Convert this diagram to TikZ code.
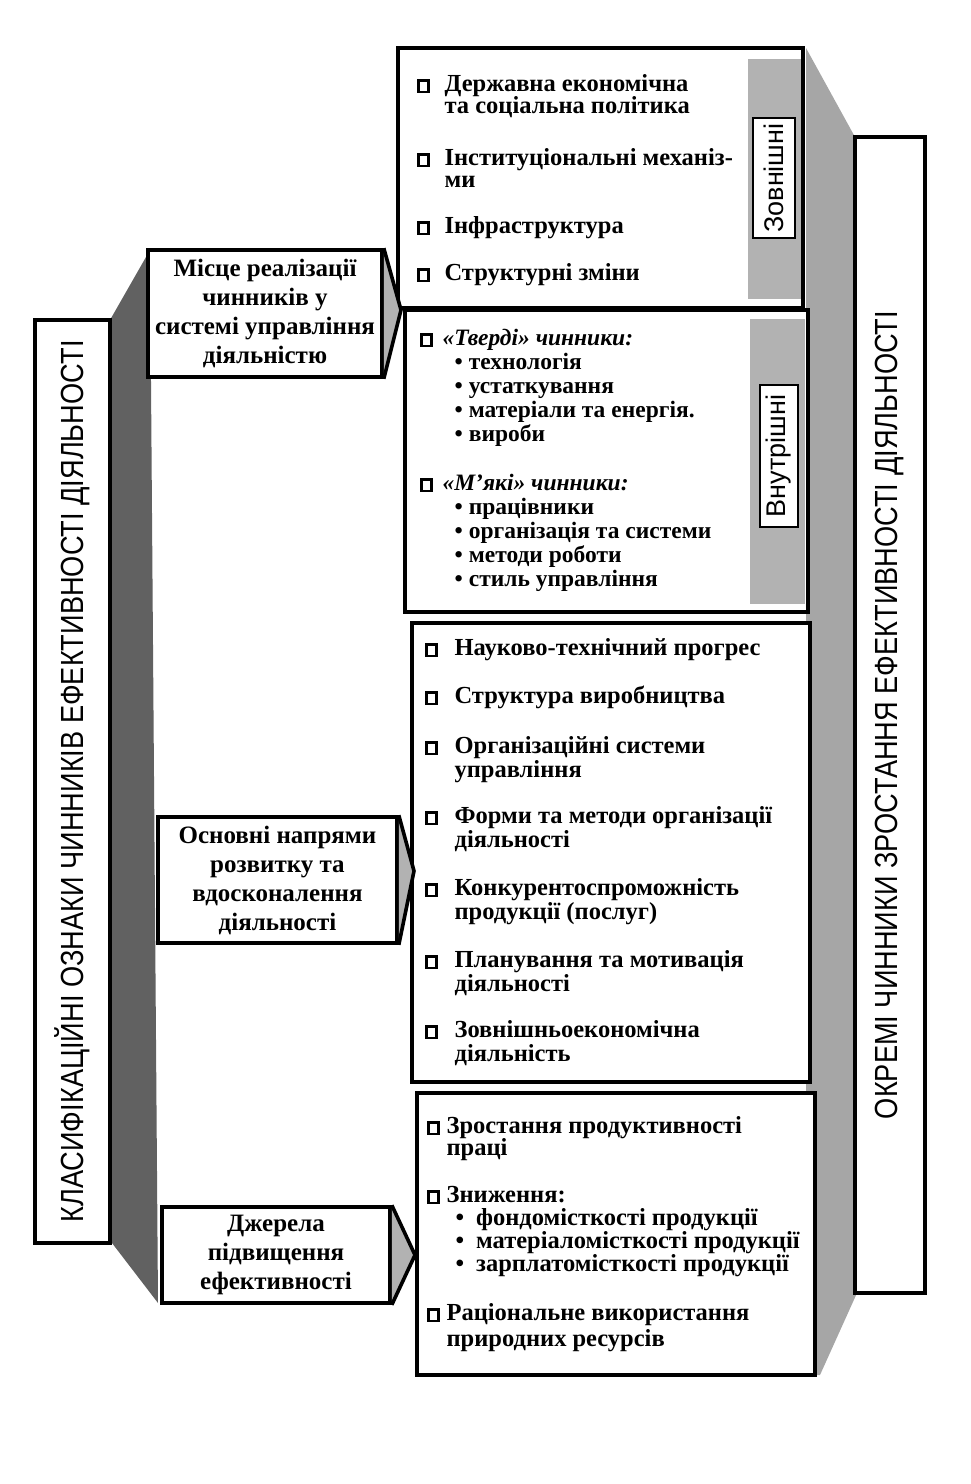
\documentclass[tikz,border=0pt]{standalone}
\usepackage{fontspec}
\setmainfont{Liberation Serif}
\setsansfont{Liberation Sans}
\newfontfamily\titlef[FakeStretch=0.85]{Liberation Sans}
\newcommand\sq{\raisebox{0.5pt}{\setlength\fboxrule{2.7pt}\setlength\fboxsep{0pt}\fbox{\rule{0pt}{8.5pt}\rule{7pt}{0pt}}}}
\newcommand\ml[2][21pt]{\vtop{\hsize=420pt\baselineskip=#1\relax\lineskiplimit=-50pt\lineskip=0pt\raggedright\noindent #2\par}}
\begin{document}
\begin{tikzpicture}[x=1pt,y=-1pt,line join=miter]
\tikzset{
 frame/.style={draw,line width=3.6pt,fill=white},
 lbox/.style={frame,align=center,font=\fontsize{25}{29}\selectfont\bfseries,inner sep=0pt},
 tip/.style={draw,line width=3.6pt,fill=black!30},
 lband/.style={fill=black!62},
 rband/.style={fill=black!35},
 strip/.style={fill=black!30},
 item/.style={anchor=base west,inner sep=0pt,font=\fontsize{24.5}{21}\selectfont\bfseries},
 itemb/.style={item,font=\fontsize{23.5}{24}\selectfont\bfseries},
 tag/.style={draw,line width=1.8pt,fill=white,rotate=90,font=\sffamily\fontsize{27}{27}\selectfont,inner sep=0pt},
 title/.style={frame,rotate=90,font=\titlef\fontsize{32}{32}\selectfont,inner sep=0pt}
}
\useasboundingbox (0,0) rectangle (970,1484);
% shaded bands
\fill[lband] (110,320) -- (150,250) -- (158,1303) -- (112,1243) -- cycle;
\fill[rband] (806,48) -- (855,137) -- (857,1293) -- (820,1375) -- (806,1375) -- cycle;
% title boxes
\node[title,minimum width=923pt,minimum height=75pt] (lt) at (72.5,781.5) {КЛАСИФІКАЦІЙНІ ОЗНАКИ ЧИННИКІВ ЕФЕКТИВНОСТІ ДІЯЛЬНОСТІ};
\node[title,minimum width=1156pt,minimum height=70pt] (rt) at (890,715) {ОКРЕМІ ЧИННИКИ ЗРОСТАННЯ ЕФЕКТИВНОСТІ ДІЯЛЬНОСТІ};
% right boxes
\node[frame,minimum width=405pt,minimum height=260pt] (A) at (600.5,178) {};
\node[frame,minimum width=403pt,minimum height=302pt] (B) at (606.5,461) {};
\node[frame,minimum width=398pt,minimum height=459pt] (C) at (611,852.5) {};
\node[frame,minimum width=398pt,minimum height=282pt] (D) at (616,1234) {};
\fill[strip] (748,59) rectangle (801,299);
\fill[strip] (750,319) rectangle (805,604);
\node[tag,minimum width=120pt,minimum height=42pt] (zt) at (774,178) {Зовнішні};
\node[tag,minimum width=142pt,minimum height=38pt] (vt) at (779,456) {Внутрішні};
% left boxes with arrow tips
\node[lbox,minimum width=234pt,minimum height=127pt] (m1) at (265,313.5) {Місце реалізації\\чинників у\\системі управління\\діяльністю};
\coordinate (t1) at (401,310);
\draw[tip] (m1.north east) -- (t1) -- (m1.south east);
\node[lbox,minimum width=239pt,minimum height=126pt] (m2) at (277.5,880) {Основні напрями\\розвитку та\\вдосконалення\\діяльності};
\coordinate (t2) at (414,871);
\draw[tip] (m2.north east) -- (t2) -- (m2.south east);
\node[lbox,minimum width=228pt,minimum height=96pt] (m3) at (276,1255) {Джерела\\підвищення\\ефективності};
\coordinate (t3) at (415,1255);
\draw[tip] (m3.north east) -- (t3) -- (m3.south east);
% box A items
\node[item] (a1) at (417,91) {\sq\hspace{15pt}\ml[22.5pt]{Державна економічна\\та соціальна політика}};
\node[item] (a2) at (417,165) {\sq\hspace{15pt}\ml[22.5pt]{Інституціональні механіз-\\ми}};
\node[item] (a3) at (417,233) {\sq\hspace{15pt}\ml[22.5pt]{Інфраструктура}};
\node[item] (a4) at (417,280) {\sq\hspace{15pt}\ml[22.5pt]{Структурні зміни}};
% box B items
\node[itemb] (b1) at (420,345) {\sq\hspace{10pt}\ml[24pt]{\textit{«Тверді» чинники:}\\
 \hspace*{12pt}•\hspace{6pt}технологія\\
 \hspace*{12pt}•\hspace{6pt}устаткування\\
 \hspace*{12pt}•\hspace{6pt}матеріали та енергія.\\
 \hspace*{12pt}•\hspace{6pt}вироби}};
\node[itemb] (b2) at (420,490) {\sq\hspace{10pt}\ml[24pt]{\textit{«М’які» чинники:}\\
 \hspace*{12pt}•\hspace{6pt}працівники\\
 \hspace*{12pt}•\hspace{6pt}організація та системи\\
 \hspace*{12pt}•\hspace{6pt}методи роботи\\
 \hspace*{12pt}•\hspace{6pt}стиль управління}};
% box C items
\node[item] (c1) at (425,655) {\sq\hspace{17pt}\ml[24.5pt]{Науково-технічний прогрес}};
\node[item] (c2) at (425,703) {\sq\hspace{17pt}\ml[24.5pt]{Структура виробництва}};
\node[item] (c3) at (425,753) {\sq\hspace{17pt}\ml[24.5pt]{Організаційні системи\\управління}};
\node[item] (c4) at (425,823) {\sq\hspace{17pt}\ml[24.5pt]{Форми та методи організації\\діяльності}};
\node[item] (c5) at (425,895) {\sq\hspace{17pt}\ml[24.5pt]{Конкурентоспроможність\\продукції (послуг)}};
\node[item] (c6) at (425,967) {\sq\hspace{17pt}\ml[24.5pt]{Планування та мотивація\\діяльності}};
\node[item] (c7) at (425,1037) {\sq\hspace{17pt}\ml[24.5pt]{Зовнішньоекономічна\\діяльність}};
% box D items
\node[item] (d1) at (427,1133) {\sq\hspace{7pt}\ml[22.5pt]{Зростання продуктивності\\праці}};
\node[item] (d2) at (427,1202) {\sq\hspace{7pt}\ml[23.3pt]{Зниження:\\
 \hspace*{9pt}•\hspace{12pt}фондомісткості продукції\\
 \hspace*{9pt}•\hspace{12pt}матеріаломісткості продукції\\
 \hspace*{9pt}•\hspace{12pt}зарплатомісткості продукції}};
\node[item] (d3) at (427,1320) {\sq\hspace{7pt}\ml[26pt]{Раціональне використання\\природних ресурсів}};
\end{tikzpicture}
\end{document}
